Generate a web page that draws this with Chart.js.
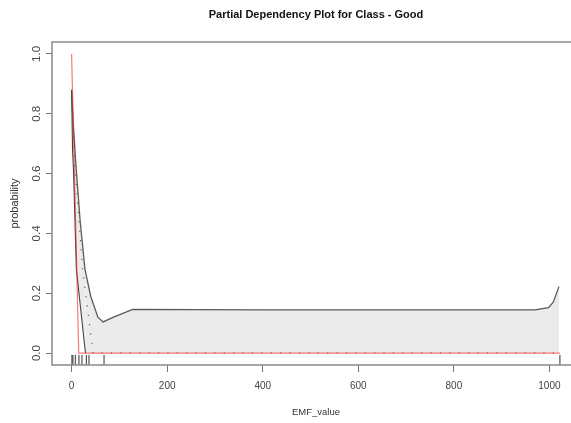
<!DOCTYPE html>
<html>
<head>
<meta charset="utf-8">
<script src="https://cdn.jsdelivr.net/npm/chart.js@4/dist/chart.umd.min.js"></script>
<style>
html,body{margin:0;padding:0;overflow:hidden;background:#fff}
</style>
</head>
<body>
<canvas id="pdp" width="610" height="423"></canvas>
<script>
const xTicks=[0,200,400,600,800,1000]
const yTicks=[0,0.2,0.4,0.6,0.8,1.0]

// partial dependence (red)
const pdX=[0,15,1022]
const pdY=[1.0,0,0]

// dotted middle line
const midX=[0,8,23,45,1022]
const midY=[0.88,0.6,0.28,0,0]

// lower bound of the band
const lowX=[0,2,4,10,29,1022]
const lowY=[0.88,0.68,0.61,0.28,0,0]

// upper bound of the band
const upX=[0,3,9,18,28,40,55,66,90,128,400,700,970,998,1008,1020]
const upY=[0.88,0.78,0.63,0.44,0.28,0.19,0.12,0.104,0.122,0.146,0.144,0.144,0.144,0.152,0.17,0.222]

// rug of observed EMF values
const rugX=[0.7,2.8,7.8,15.4,21.7,30.9,36.4,67.9,1022]

const pts=(xs,ys)=>xs.map((x,i)=>({x:x,y:ys[i]}))
const font="'Liberation Sans', Arial, sans-serif"

const boxPlugin={
id:"box",
afterDatasetsDraw(chart){
const a=chart.chartArea
const ctx=chart.ctx
ctx.save()
ctx.strokeStyle="#8a8a8a"
ctx.lineWidth=1.5
ctx.strokeRect(a.left,a.top,a.right-a.left,a.bottom-a.top)
ctx.restore()
}
}

new Chart(document.getElementById("pdp"),{
type:"line",
data:{
datasets:[
{data:pts(pdX,pdY),borderColor:"rgba(255,30,30,0.6)",borderWidth:1.2,pointRadius:0,fill:false},
{data:pts(midX,midY),borderColor:"#555",borderWidth:1.1,borderDash:[1.2,8.2],pointRadius:0,fill:false},
{data:pts(lowX,lowY),borderColor:"#444",borderWidth:1.1,pointRadius:0,fill:false,
segment:{borderColor:c=>c.p0.parsed.x>=29?"rgba(0,0,0,0)":"#444"}},
{data:pts(upX,upY),borderColor:"#5a5a5a",borderWidth:1.3,pointRadius:0,
fill:{target:2,above:"#ebebeb",below:"#ebebeb"}},
{data:rugX.map(x=>({x:x,y:-0.023})),showLine:false,pointStyle:"line",rotation:90,pointRadius:5,
borderColor:"#333",borderWidth:1,pointHoverRadius:5}
]
},
options:{
responsive:false,
animation:false,
devicePixelRatio:1,
layout:{padding:{left:0,right:30,top:0,bottom:0}},
plugins:{
legend:{display:false},
tooltip:{enabled:false},
title:{display:true,fullSize:false,text:"Partial Dependency Plot for Class - Good",
color:"#111",font:{family:font,size:11,weight:"bold"},padding:{top:8.5,bottom:20.3}}
},
scales:{
x:{
type:"linear",min:-41,max:1064,
afterBuildTicks:s=>{s.ticks=xTicks.map(v=>({value:v}))},
afterFit:s=>{s.height=58},
grid:{drawOnChartArea:false,drawTicks:true,tickLength:7,color:"#777"},
border:{display:false},
ticks:{color:"#444",padding:8,maxRotation:0,font:{family:font,size:10},callback:v=>String(v)},
title:{display:true,text:"EMF_value",color:"#333",font:{family:font,size:9.5},padding:{top:0,bottom:5}}
},
y:{
type:"linear",min:-0.04,max:1.04,
afterBuildTicks:s=>{s.ticks=yTicks.map(v=>({value:v}))},
afterFit:s=>{s.width=52},
grid:{drawOnChartArea:false,drawTicks:true,tickLength:6,color:"#777"},
border:{display:false},
ticks:{color:"#444",padding:1,minRotation:90,maxRotation:90,crossAlign:"center",
font:{family:font,size:11.5},callback:v=>v.toFixed(1)},
title:{display:true,text:"probability",color:"#333",font:{family:font,size:11},padding:{top:8.5,bottom:0}}
}
}
},
plugins:[boxPlugin]
})
</script>
</body>
</html>
